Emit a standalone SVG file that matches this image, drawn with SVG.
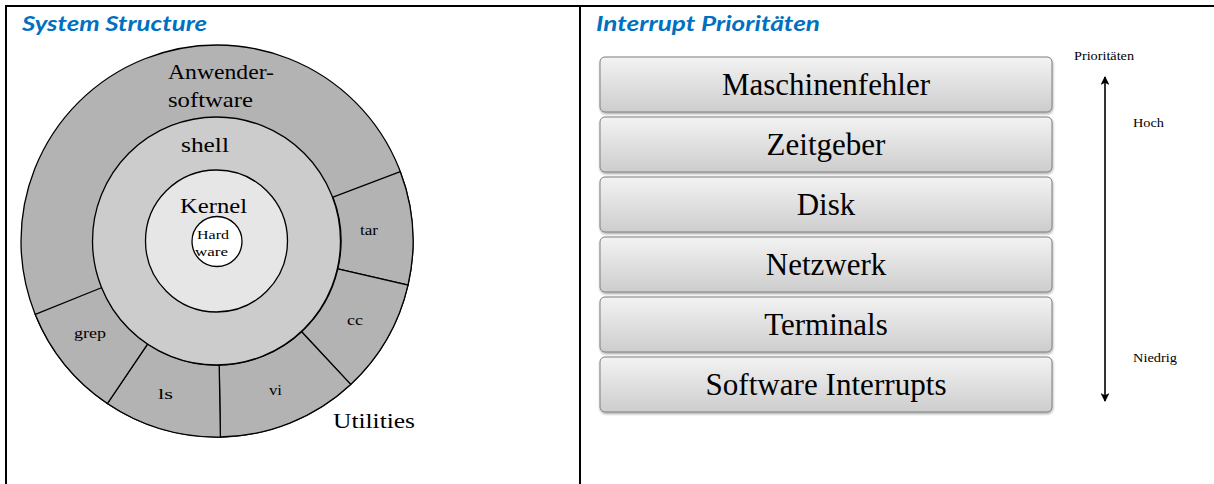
<svg xmlns="http://www.w3.org/2000/svg" width="1214" height="484" viewBox="0 0 1214 484">
<style>
.frame{stroke:#000;stroke-width:2;fill:none}
.title{font-family:"Lato","Open Sans","Liberation Sans",sans-serif;font-weight:bold;font-style:italic;font-size:20px;fill:#0070c0}
.ring{stroke:#000;stroke-width:1.3}
.serif{font-family:"Liberation Serif","DejaVu Serif",serif;fill:#000}
.lbl{font-size:21px}
.small{font-size:14px}
.box{fill:url(#g);stroke:#7f7f7f;stroke-width:1;filter:url(#sh)}
.boxt{font-family:"Liberation Serif","DejaVu Serif",serif;font-size:31px;fill:#000;text-anchor:middle}
.axis{stroke:#000;stroke-width:1.6;fill:none}
</style>
<defs>
<linearGradient id="g" x1="0" y1="0" x2="0" y2="1">
<stop offset="0" stop-color="#f3f3f3"/>
<stop offset="1" stop-color="#cdcdcd"/>
</linearGradient>
<filter id="sh" x="-5%" y="-20%" width="110%" height="150%">
<feDropShadow dx="0.5" dy="1.5" stdDeviation="1" flood-color="#000" flood-opacity="0.35"/>
</filter>
<marker id="ah" viewBox="0 0 10 10" refX="9" refY="5" markerWidth="5.5" markerHeight="5.5" orient="auto-start-reverse">
<path d="M0,0 L10,5 L0,10 L2.5,5 z" fill="#000"/>
</marker>
</defs>
<rect width="1214" height="484" fill="#fff"/>
<g id="frame">
<line class="frame" x1="5" y1="6" x2="1214" y2="6"/>
<line class="frame" x1="6" y1="5" x2="6" y2="484"/>
<line class="frame" x1="580" y1="5" x2="580" y2="484"/>
</g>
<text class="title" x="22" y="31" textLength="185" lengthAdjust="spacingAndGlyphs">System Structure</text>
<text class="title" x="596" y="31" textLength="224" lengthAdjust="spacingAndGlyphs">Interrupt Prioritäten</text>

<g id="anwender">
<circle class="ring" cx="217" cy="241" r="196" fill="#b3b3b3"/>
<text class="serif lbl" x="168" y="79" textLength="106" lengthAdjust="spacingAndGlyphs">Anwender-</text>
<text class="serif lbl" x="168" y="107" textLength="85" lengthAdjust="spacingAndGlyphs">software</text>
</g>
<g id="tar">
<path class="ring" fill="#b3b3b3" d="M333.0,197.2 L400.3,171.7 A196,196 0 0 1 408.0,285.1 L337.8,268.9 A124,124 0 0 0 333.0,197.2 Z"/>
<text class="serif small" x="360" y="235" textLength="18" lengthAdjust="spacingAndGlyphs">tar</text>
</g>
<g id="cc">
<path class="ring" fill="#b3b3b3" d="M337.8,268.9 L408.0,285.1 A196,196 0 0 1 350.7,384.4 L301.6,331.7 A124,124 0 0 0 337.8,268.9 Z"/>
<text class="serif small" x="347" y="325" textLength="16" lengthAdjust="spacingAndGlyphs">cc</text>
</g>
<g id="vi">
<path class="ring" fill="#b3b3b3" d="M301.6,331.7 L350.7,384.4 A196,196 0 0 1 220.4,437.0 L219.2,365.0 A124,124 0 0 0 301.6,331.7 Z"/>
<text class="serif small" x="269" y="395" textLength="13" lengthAdjust="spacingAndGlyphs">vi</text>
</g>
<g id="ls">
<path class="ring" fill="#b3b3b3" d="M219.2,365.0 L220.4,437.0 A196,196 0 0 1 107.4,403.5 L147.7,343.8 A124,124 0 0 0 219.2,365.0 Z"/>
<text class="serif small" x="158" y="399" textLength="15" lengthAdjust="spacingAndGlyphs">ls</text>
</g>
<g id="grep">
<path class="ring" fill="#b3b3b3" d="M147.7,343.8 L107.4,403.5 A196,196 0 0 1 35.3,314.4 L102.0,287.5 A124,124 0 0 0 147.7,343.8 Z"/>
<text class="serif small" x="74" y="338" textLength="32" lengthAdjust="spacingAndGlyphs">grep</text>
</g>
<g id="utilities">
<text class="serif lbl" x="333" y="428" textLength="82" lengthAdjust="spacingAndGlyphs">Utilities</text>
</g>
<g id="shell">
<circle class="ring" cx="216.5" cy="241" r="124" fill="#cccccc"/>
<text class="serif lbl" x="181" y="152" textLength="48" lengthAdjust="spacingAndGlyphs">shell</text>
</g>
<g id="kernel">
<circle class="ring" cx="216.5" cy="241" r="71" fill="#e6e6e6"/>
<text class="serif lbl" x="180" y="213" textLength="67" lengthAdjust="spacingAndGlyphs">Kernel</text>
</g>
<g id="hardware">
<circle class="ring" cx="217" cy="241.5" r="25" fill="#ffffff"/>
<text class="serif" font-size="13" x="197" y="239" textLength="32" lengthAdjust="spacingAndGlyphs">Hard</text>
<text class="serif" font-size="13" x="195" y="256" textLength="33" lengthAdjust="spacingAndGlyphs">ware</text>
</g>

<g id="maschinenfehler">
<rect class="box" x="600" y="57" width="452" height="55" rx="5"/>
<text class="boxt" x="826" y="95" textLength="208" lengthAdjust="spacingAndGlyphs">Maschinenfehler</text>
</g>
<g id="zeitgeber">
<rect class="box" x="600" y="117" width="452" height="55" rx="5"/>
<text class="boxt" x="826" y="155">Zeitgeber</text>
</g>
<g id="disk">
<rect class="box" x="600" y="177" width="452" height="55" rx="5"/>
<text class="boxt" x="826" y="215">Disk</text>
</g>
<g id="netzwerk">
<rect class="box" x="600" y="237" width="452" height="55" rx="5"/>
<text class="boxt" x="826" y="275">Netzwerk</text>
</g>
<g id="terminals">
<rect class="box" x="600" y="297" width="452" height="55" rx="5"/>
<text class="boxt" x="826" y="335">Terminals</text>
</g>
<g id="software-interrupts">
<rect class="box" x="600" y="357" width="452" height="55" rx="5"/>
<text class="boxt" x="826" y="395" textLength="241" lengthAdjust="spacingAndGlyphs">Software Interrupts</text>
</g>

<g id="connectors">
<line class="axis" x1="1105" y1="77" x2="1105" y2="401" marker-start="url(#ah)" marker-end="url(#ah)"/>
</g>
<g id="axis-labels">
<text class="serif" font-size="12" x="1074" y="60" textLength="60" lengthAdjust="spacingAndGlyphs">Prioritäten</text>
<text class="serif" font-size="13" x="1133" y="127" textLength="31" lengthAdjust="spacingAndGlyphs">Hoch</text>
<text class="serif" font-size="13" x="1133" y="362" textLength="44" lengthAdjust="spacingAndGlyphs">Niedrig</text>
</g>
</svg>
